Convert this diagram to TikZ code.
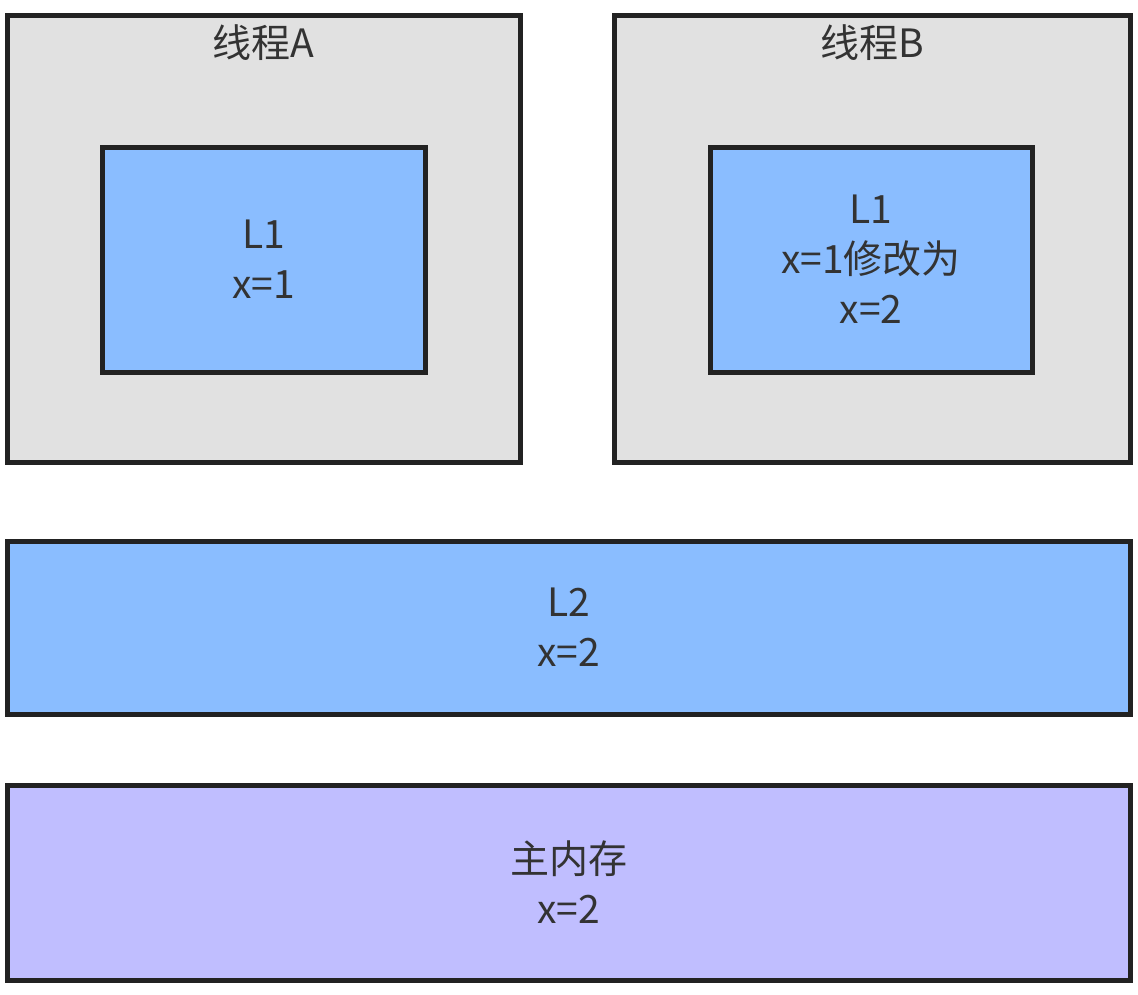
\documentclass[tikz,border=0pt]{standalone}
\usepackage{fontspec}
\setmainfont{Noto Sans CJK SC}
\usetikzlibrary{positioning}

\definecolor{threadgray}{HTML}{E1E1E1}
\definecolor{cacheblue}{HTML}{8ABDFF}
\definecolor{mempurple}{HTML}{C0BEFF}
\definecolor{edgegray}{HTML}{222222}
\definecolor{textgray}{HTML}{333333}

\tikzset{
  box/.style={draw=edgegray, line width=5pt, rectangle, inner sep=0pt,
    align=center, text=textgray, font=\fontsize{39}{50}\selectfont},
  threadbox/.style={box, fill=threadgray},
  cachebox/.style={box, fill=cacheblue},
  membox/.style={box, fill=mempurple},
  title/.style={text=textgray, font=\fontsize{39}{50}\selectfont, inner sep=0pt}
}

\begin{document}
\begin{tikzpicture}[x=1pt, y=-1pt]
\useasboundingbox (0,0) rectangle (1138,994);
% threads
\node[threadbox, minimum width=513pt, minimum height=447pt] (ta) at (263.5,238.5) {};
\node[threadbox, minimum width=516pt, minimum height=447pt] (tb) at (872,238.5) {};
\node[title, below=30pt of ta.north, anchor=center] (tatitle) {线程A};
\node[title, below=30pt of tb.north, anchor=center] (tbtitle) {线程B};
% L1 caches
\node[cachebox, minimum width=323pt, minimum height=225pt] (l1a) at (263.5,259.5) {L1\\x=1};
\node[cachebox, minimum width=322pt, minimum height=225pt] (l1b) at (871,259.5) {L1\\x=1修改为\\x=2};
% L2 and memory
\node[cachebox, minimum width=1123pt, minimum height=173pt] (l2) at (568.5,627.5) {L2\\x=2};
\node[membox, minimum width=1123pt, minimum height=195pt] (mem) at (568.5,882.5) {主内存\\x=2};
\end{tikzpicture}
\end{document}
